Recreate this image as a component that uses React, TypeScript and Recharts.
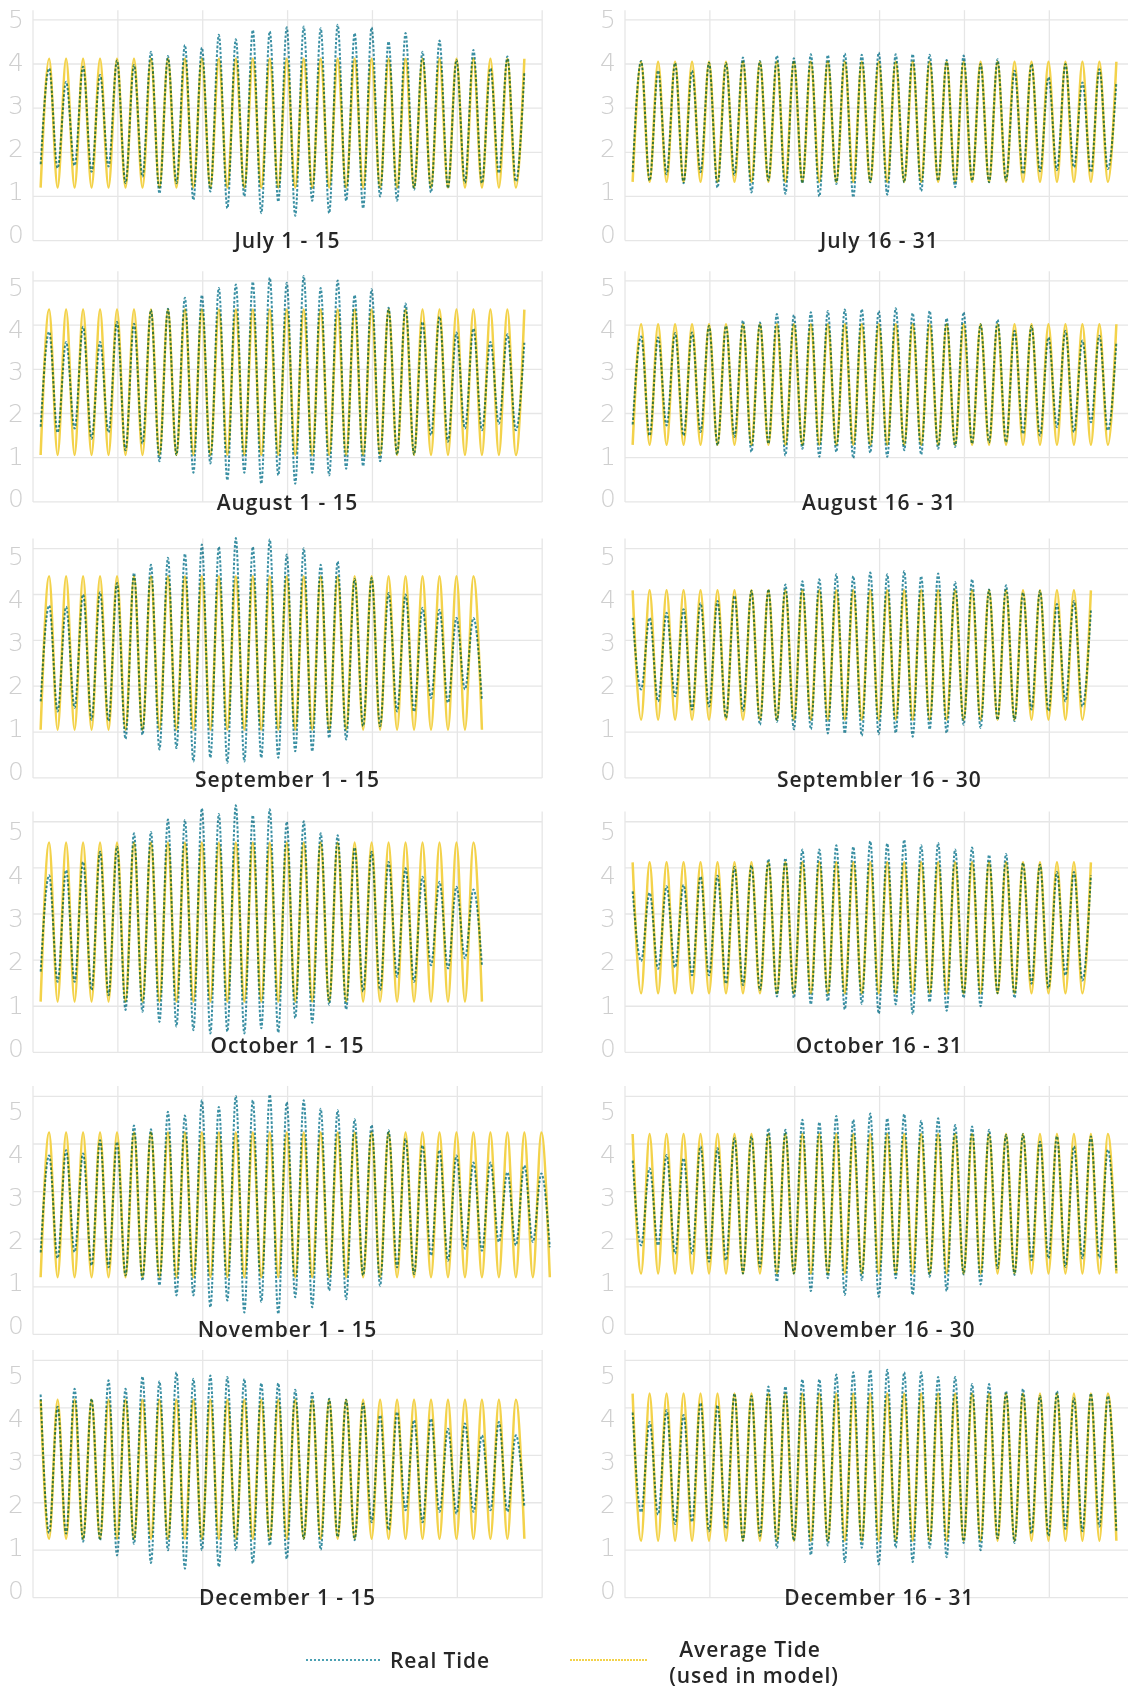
import React from 'react';
import { LineChart, Line, XAxis, YAxis, ReferenceLine } from 'recharts';

// ---------- DATA (tide extremes, metres) ----------
const TITLES = [
  'July 1 - 15', 'July 16 - 31',
  'August 1 - 15', 'August 16 - 31',
  'September 1 - 15', 'Septembler 16 - 30',
  'October 1 - 15', 'October 16 - 31',
  'November 1 - 15', 'November 16 - 30',
  'December 1 - 15', 'December 16 - 31',
];

const REAL_JUL_1_15 = [1.73, 3.9, 1.64, 3.6, 1.7, 3.94, 1.56, 3.75, 1.68, 4.08, 1.3, 3.98, 1.45, 4.28, 1.07, 4.18, 1.3, 4.43, 0.92, 4.37, 1.11, 4.66, 0.73, 4.56, 1.0, 4.77, 0.62, 4.74, 0.88, 4.83, 0.56, 4.85, 0.9, 4.81, 0.62, 4.89, 0.9, 4.7, 0.73, 4.83, 1.0, 4.51, 0.9, 4.7, 1.15, 4.28, 1.09, 4.53, 1.19, 4.09, 1.31, 4.32, 1.3, 3.9, 1.53, 4.17, 1.34, 3.83];
const REAL_JUL_16_31 = [1.55, 4.07, 1.36, 3.85, 1.5, 4.02, 1.3, 3.85, 1.55, 4.03, 1.2, 4.02, 1.49, 4.15, 1.09, 4.07, 1.36, 4.19, 1.06, 4.13, 1.3, 4.22, 1.0, 4.2, 1.28, 4.24, 0.98, 4.21, 1.32, 4.26, 1.04, 4.22, 1.32, 4.22, 1.12, 4.21, 1.36, 4.09, 1.21, 4.19, 1.36, 4.0, 1.32, 4.11, 1.36, 3.85, 1.51, 4.0, 1.57, 3.7, 1.6, 4.0, 1.66, 3.58, 1.55, 3.88, 1.62, 3.58];
const REAL_AUG_1_15 = [1.7, 3.85, 1.57, 3.62, 1.66, 3.96, 1.43, 3.62, 1.57, 4.07, 1.17, 4.03, 1.32, 4.34, 0.92, 4.37, 1.06, 4.62, 0.66, 4.68, 0.87, 4.84, 0.49, 4.92, 0.66, 4.98, 0.41, 5.07, 0.6, 4.96, 0.41, 5.11, 0.66, 4.84, 0.6, 5.01, 0.75, 4.68, 0.81, 4.81, 0.92, 4.39, 1.07, 4.49, 1.07, 4.07, 1.51, 4.19, 1.36, 3.83, 1.66, 3.92, 1.62, 3.62, 1.77, 3.79, 1.62, 3.6];
const REAL_AUG_16_31 = [1.75, 3.74, 1.5, 3.72, 1.73, 3.82, 1.5, 3.83, 1.58, 3.98, 1.28, 3.98, 1.47, 4.1, 1.13, 4.06, 1.32, 4.25, 1.05, 4.23, 1.2, 4.29, 1.02, 4.32, 1.13, 4.35, 0.99, 4.36, 1.11, 4.32, 1.02, 4.38, 1.17, 4.27, 1.07, 4.32, 1.2, 4.15, 1.24, 4.29, 1.32, 4.02, 1.35, 4.12, 1.35, 3.87, 1.54, 3.98, 1.5, 3.72, 1.69, 3.87, 1.58, 3.65, 1.8, 3.76, 1.62, 3.6];
const REAL_SEP_1_15 = [1.67, 3.76, 1.45, 3.73, 1.53, 4.0, 1.27, 4.05, 1.24, 4.25, 0.85, 4.47, 0.94, 4.65, 0.62, 4.8, 0.65, 4.89, 0.36, 5.09, 0.44, 5.04, 0.33, 5.23, 0.36, 5.04, 0.44, 5.2, 0.44, 4.87, 0.58, 5.01, 0.58, 4.65, 0.87, 4.72, 0.84, 4.34, 1.13, 4.36, 1.13, 4.03, 1.45, 4.0, 1.45, 3.71, 1.74, 3.67, 1.64, 3.49, 1.93, 3.49, 1.7];
const REAL_SEP_16_30 = [3.49, 1.93, 3.49, 1.67, 3.6, 1.78, 3.68, 1.49, 3.81, 1.56, 3.86, 1.31, 3.97, 1.46, 4.08, 1.16, 4.11, 1.22, 4.22, 1.06, 4.29, 1.06, 4.33, 0.97, 4.44, 0.97, 4.4, 0.92, 4.48, 0.95, 4.44, 0.98, 4.51, 0.9, 4.4, 1.06, 4.46, 0.98, 4.27, 1.16, 4.33, 1.09, 4.11, 1.27, 4.2, 1.24, 4.04, 1.49, 4.08, 1.46, 3.79, 1.67, 3.86, 1.56, 3.65];
const REAL_OCT_1_15 = [1.75, 3.84, 1.53, 3.95, 1.53, 4.13, 1.35, 4.35, 1.24, 4.46, 0.92, 4.75, 0.88, 4.78, 0.66, 5.05, 0.56, 5.04, 0.48, 5.29, 0.41, 5.17, 0.45, 5.36, 0.41, 5.14, 0.52, 5.27, 0.43, 5.0, 0.74, 5.01, 0.64, 4.75, 1.03, 4.71, 0.93, 4.44, 1.32, 4.35, 1.35, 4.13, 1.64, 3.99, 1.53, 3.81, 1.89, 3.7, 1.82, 3.59, 2.04, 3.53, 1.9];
const REAL_OCT_16_31 = [3.49, 1.98, 3.46, 1.81, 3.6, 1.84, 3.63, 1.67, 3.81, 1.67, 3.83, 1.49, 4.02, 1.46, 4.05, 1.35, 4.19, 1.21, 4.21, 1.18, 4.4, 1.04, 4.4, 1.11, 4.49, 0.93, 4.46, 1.05, 4.58, 0.84, 4.53, 1.04, 4.61, 0.83, 4.49, 1.09, 4.54, 0.9, 4.4, 1.18, 4.44, 1.0, 4.28, 1.28, 4.3, 1.18, 4.11, 1.49, 4.07, 1.39, 3.91, 1.67, 3.91, 1.56, 3.84];
const REAL_NOV_1_15 = [1.72, 3.76, 1.6, 3.87, 1.73, 3.8, 1.45, 4.08, 1.41, 4.04, 1.24, 4.39, 1.13, 4.31, 1.03, 4.68, 0.82, 4.6, 0.82, 4.92, 0.57, 4.78, 0.71, 5.01, 0.46, 4.92, 0.68, 5.04, 0.43, 4.88, 0.78, 4.92, 0.57, 4.74, 0.92, 4.71, 0.74, 4.52, 1.24, 4.4, 1.02, 4.29, 1.41, 4.11, 1.27, 3.97, 1.66, 3.87, 1.55, 3.76, 1.8, 3.61, 1.76, 3.61, 1.94, 3.41, 1.87, 3.55, 1.94, 3.38, 1.83];
const REAL_NOV_16_30 = [3.65, 1.87, 3.49, 1.87, 3.77, 1.7, 3.7, 1.7, 3.95, 1.53, 3.91, 1.56, 4.12, 1.28, 4.16, 1.42, 4.33, 1.11, 4.3, 1.28, 4.51, 0.91, 4.46, 1.18, 4.59, 0.83, 4.51, 1.14, 4.64, 0.79, 4.54, 1.18, 4.63, 0.83, 4.49, 1.21, 4.54, 0.91, 4.4, 1.26, 4.37, 1.05, 4.3, 1.39, 4.19, 1.25, 4.21, 1.56, 4.05, 1.6, 4.16, 1.42, 3.95, 1.6, 4.16, 1.61, 3.88, 1.35];
const REAL_DEC_1_15 = [4.28, 1.36, 4.02, 1.35, 4.4, 1.18, 4.19, 1.21, 4.58, 0.89, 4.4, 1.13, 4.66, 0.73, 4.56, 1.0, 4.75, 0.61, 4.61, 1.0, 4.68, 0.65, 4.65, 1.0, 4.61, 0.72, 4.52, 1.1, 4.52, 0.82, 4.38, 1.24, 4.31, 1.01, 4.19, 1.28, 4.17, 1.21, 4.09, 1.59, 3.84, 1.43, 3.91, 1.84, 3.74, 1.59, 3.77, 1.81, 3.56, 1.77, 3.67, 1.81, 3.42, 1.84, 3.7, 1.81, 3.42, 1.91];
const REAL_DEC_16_31 = [3.9, 1.8, 3.7, 1.75, 3.95, 1.55, 3.85, 1.6, 4.1, 1.4, 4.05, 1.45, 4.3, 1.2, 4.25, 1.3, 4.45, 1.05, 4.45, 1.2, 4.6, 0.9, 4.6, 1.1, 4.7, 0.75, 4.75, 1.05, 4.8, 0.7, 4.8, 1.05, 4.75, 0.75, 4.75, 1.05, 4.65, 0.85, 4.65, 1.15, 4.5, 1.0, 4.5, 1.25, 4.35, 1.15, 4.4, 1.35, 4.25, 1.3, 4.35, 1.45, 4.2, 1.4, 4.3, 1.5, 4.25, 1.4];

// average (model) tide: [low water, high water] per panel
const AVG_JUL_1_15 = [1.2, 4.12];
const AVG_JUL_16_31 = [1.33, 4.05];
const AVG_AUG_1_15 = [1.06, 4.35];
const AVG_AUG_16_31 = [1.29, 4.02];
const AVG_SEP_1_15 = [1.05, 4.4];
const AVG_SEP_16_30 = [1.27, 4.09];
const AVG_OCT_1_15 = [1.1, 4.55];
const AVG_OCT_16_31 = [1.28, 4.12];
const AVG_NOV_1_15 = [1.2, 4.24];
const AVG_NOV_16_30 = [1.28, 4.21];
const AVG_DEC_1_15 = [1.24, 4.17];
const AVG_DEC_16_31 = [1.2, 4.3];

// whether each panel's first tide extreme is a high water
const STARTS_HIGH = [false, false, false, false, false, true, false, true, false, true, true, true];

const Y_TICKS = [0, 1, 2, 3, 4, 5];

const REALS = [REAL_JUL_1_15, REAL_JUL_16_31, REAL_AUG_1_15, REAL_AUG_16_31, REAL_SEP_1_15, REAL_SEP_16_30, REAL_OCT_1_15, REAL_OCT_16_31, REAL_NOV_1_15, REAL_NOV_16_30, REAL_DEC_1_15, REAL_DEC_16_31];
const AVGS = [AVG_JUL_1_15, AVG_JUL_16_31, AVG_AUG_1_15, AVG_AUG_16_31, AVG_SEP_1_15, AVG_SEP_16_30, AVG_OCT_1_15, AVG_OCT_16_31, AVG_NOV_1_15, AVG_NOV_16_30, AVG_DEC_1_15, AVG_DEC_16_31];

// ---------- LAYOUT ----------
const X_MIN = -0.9;
const X_MAX = 61;
const GRID_X = [-0.9, 9.1, 19.1, 29.1, 39.1, 49.1, 59.1];
const GRID_TOP = 5.22;
const Y_MAX = 5.45;
const PX_PER_IDX = 8.4867;
const Y_AXIS_W = 33;
const BOTTOM_PAD = 18;
const PLOT_W = (X_MAX - X_MIN) * PX_PER_IDX;
const CHART_W = Y_AXIS_W + PLOT_W;
const COL_PLOT_LEFT = [32.9, 624.7];
const ROWS = [
  { g0: 240.7, u: 44.14, l0: 235, s: 43, tb: 248.3 },
  { g0: 502, u: 44.2, l0: 498.7, s: 42.3, tb: 509.5 },
  { g0: 778.3, u: 45.86, l0: 771.7, s: 43, tb: 786.5 },
  { g0: 1052.3, u: 46.12, l0: 1048.3, s: 43.3, tb: 1052.6 },
  { g0: 1334, u: 47.6, l0: 1325, s: 42.7, tb: 1336.7 },
  { g0: 1597.3, u: 47.46, l0: 1590, s: 43, tb: 1605 },
];

const REAL_COLOR = '#3a8fa3';
const AVG_COLOR = '#f3d24a';
const GRID_COLOR = '#e6e6e6';
const TITLE_FONT = "'Open Sans', 'Noto Sans', 'DejaVu Sans', sans-serif";
const TICK_FONT = "'DejaVu Sans', 'Noto Sans', sans-serif";

function buildRows(real: number[], avg: number[], startsHigh: boolean) {
  return real.map((v, i) => ({
    i,
    real: v,
    avg: (i % 2 === 0) === startsHigh ? avg[1] : avg[0],
  }));
}

function makeTick(row: any) {
  return (props: any) => {
    const { y, payload } = props;
    const v = payload.value;
    const off = (row.l0 - v * row.s) - (row.g0 - v * row.u);
    return (
      <text
        x={Y_AXIS_W - 17}
        y={y + off}
        textAnchor="middle"
        dominantBaseline="central"
        fill="#cfcfcf"
        fontSize={25}
        fontFamily={TICK_FONT}
        fontWeight={200}
      >
        {String(v)}
      </text>
    );
  };
}

function Panel({ idx }: { idx: number }) {
  const rowIdx = Math.floor(idx / 2);
  const col = idx % 2;
  const row = ROWS[rowIdx];
  const plotH = Y_MAX * row.u;
  const h = plotH + BOTTOM_PAD;
  const data = buildRows(REALS[idx], AVGS[idx], STARTS_HIGH[idx]);
  return (
    <div
      style={{
        position: 'absolute',
        left: COL_PLOT_LEFT[col] - Y_AXIS_W,
        top: row.g0 - plotH,
        width: CHART_W,
        height: h,
      }}
    >
      <LineChart width={CHART_W} height={h} data={data} margin={{ top: 0, right: 0, bottom: BOTTOM_PAD, left: 0 }}>
        <XAxis type="number" dataKey="i" domain={[X_MIN, X_MAX]} hide />
        <YAxis
          type="number"
          domain={[0, Y_MAX]}
          ticks={Y_TICKS}
          interval={0}
          width={Y_AXIS_W}
          axisLine={false}
          tickLine={false}
          tick={makeTick(row)}
        />
        {Y_TICKS.map((v) => (
          <ReferenceLine
            key={'h' + v}
            segment={[{ x: X_MIN, y: v }, { x: GRID_X[GRID_X.length - 1], y: v }]}
            stroke={GRID_COLOR}
            strokeWidth={1.3}
            ifOverflow="visible"
            zIndex={-100}
          />
        ))}
        {GRID_X.map((x) => (
          <ReferenceLine
            key={'v' + x}
            segment={[{ x, y: 0 }, { x, y: GRID_TOP }]}
            stroke={GRID_COLOR}
            strokeWidth={1.3}
            ifOverflow="visible"
            zIndex={-100}
          />
        ))}
        <Line
          type="monotone"
          dataKey="avg"
          stroke={AVG_COLOR}
          strokeWidth={2.5}
          dot={false}
          activeDot={false}
          isAnimationActive={false}
        />
        <Line
          type="monotone"
          dataKey="real"
          className="real-tide"
          stroke={REAL_COLOR}
          strokeWidth={2}
          strokeDasharray="2.6 1.8"
          dot={false}
          activeDot={false}
          isAnimationActive={false}
        />
      </LineChart>
    </div>
  );
}

export default function App() {
  return (
    <div
      style={{
        position: 'fixed',
        left: 0,
        top: 0,
        width: 1128,
        height: 1690,
        overflow: 'hidden',
        background: '#ffffff',
      }}
    >
      <style>{`.real-tide path { mix-blend-mode: multiply; }`}</style>
      {TITLES.map((_, i) => (
        <Panel key={i} idx={i} />
      ))}
      <svg
        width={1128}
        height={1690}
        style={{ position: 'absolute', left: 0, top: 0, pointerEvents: 'none' }}
      >
        {TITLES.map((t, i) => {
          const row = ROWS[Math.floor(i / 2)];
          const cx = COL_PLOT_LEFT[i % 2] + (GRID_X[GRID_X.length - 1] - X_MIN) * PX_PER_IDX / 2;
          return (
            <text
              key={t}
              x={cx}
              y={row.tb}
              textAnchor="middle"
              fontFamily={TITLE_FONT}
              fontWeight={600}
              fontSize={21}
              letterSpacing={0.9}
              fill="#262626"
            >
              {t}
            </text>
          );
        })}
        {/* legend */}
        <line x1={306} y1={1660} x2={380} y2={1660} stroke="#4aa0b3" strokeWidth={2} strokeDasharray="2 2" />
        <text x={390} y={1668} fontFamily={TITLE_FONT} fontWeight={600} fontSize={21} letterSpacing={0.9} fill="#262626">
          Real Tide
        </text>
        <line x1={570} y1={1660} x2={647} y2={1660} stroke={AVG_COLOR} strokeWidth={2} strokeDasharray="2 1" />
        <text x={750} y={1656.7} textAnchor="middle" fontFamily={TITLE_FONT} fontWeight={600} fontSize={21} letterSpacing={0.9} fill="#262626">
          Average Tide
        </text>
        <text x={754} y={1683} textAnchor="middle" fontFamily={TITLE_FONT} fontWeight={600} fontSize={21} letterSpacing={0.9} fill="#262626">
          (used in model)
        </text>
      </svg>
    </div>
  );
}
